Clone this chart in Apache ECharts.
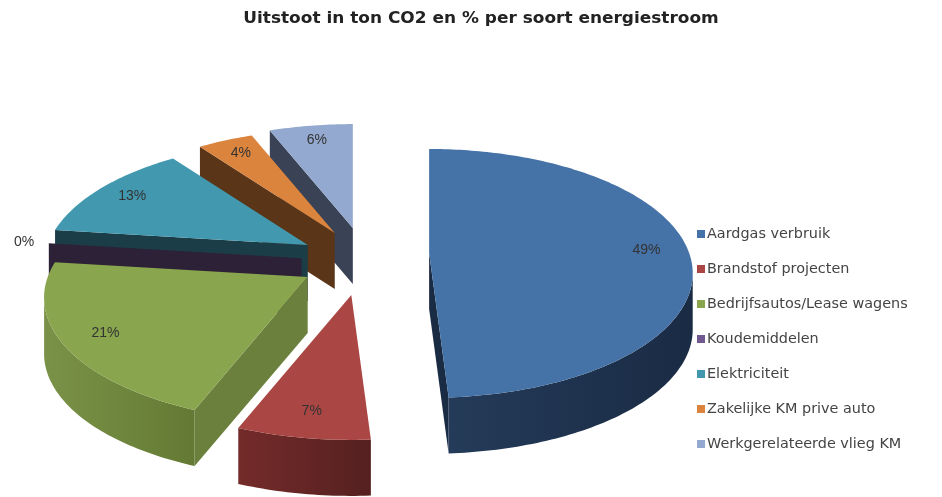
<!DOCTYPE html>
<html>
<head>
<meta charset="utf-8">
<style>
    html, body { margin: 0; padding: 0; background: #fff; }
    #chart { width: 942px; height: 497px; filter: blur(0.5px); }
</style>
<script src="https://cdn.jsdelivr.net/npm/echarts@6/dist/echarts.min.js"></script>
</head>
<body>
<div id="chart"></div>
<script>
const chartTitle = 'Uitstoot in ton CO2 en % per soort energiestroom';
const categories = [
    'Aardgas verbruik',
    'Brandstof projecten',
    'Bedrijfsautos/Lease wagens',
    'Koudemiddelen',
    'Elektriciteit',
    'Zakelijke KM prive auto',
    'Werkgerelateerde vlieg KM',
];
const percentages = [49, 7, 21, 0, 13, 4, 6];

// styling per slice, same order as categories
const explodeDistance = [0.281, 0.27, 0.233, 0.223, 0.243, 0.259, 0.287];
const explodeAngle = [76, 186, 236, 276, 304, 338, 355];
const topColors = ['#4572A7', '#AA4643', '#89A54E', '#71588F', '#4198AF', '#DB843D', '#93A9CF'];
const wallLeft = ['#243B59', '#742B2A', '#7A9247', '#2C2136', '#1B3D47', '#5A3518', '#3A4255'];
const wallRight = ['#1A2B44', '#552020', '#647A34', '#2C2136', '#1B3D47', '#5A3518', '#3A4255'];
const wallFlat = ['#1A2B44', '#552020', '#6A803C', '#2C2136', '#1B3D47', '#5A3518', '#3A4255'];
const paintOrder = [7, 6, 5, 4, 3, 2, 1];

// fake 3d projection of the pie plane
const centerX = 359;
const centerY = 261;
const radiusX = 260;
const radiusY = 121;
const perspective = 0.165;
const depth = 56;
const labelRadius = 0.84;
const outsideLabelRadius = 1.1;

function project(X, Y) {
    const w = 1 / (1 - perspective * Y);
    return [radiusX * X * w, radiusY * Y * w];
}

function onCircle(deg, r) {
    const a = (deg * Math.PI) / 180;
    return project(r * Math.sin(a), -r * Math.cos(a));
}

const total = percentages.reduce((sum, v) => sum + v, 0);

function sliceAngles(index) {
    const before = percentages.slice(0, index).reduce((sum, v) => sum + v, 0);
    return [(before / total) * 360, ((before + percentages[index]) / total) * 360];
}

function wall(points, fill, z2) {
    const bottom = points.map((p) => [p[0], p[1] + depth]).reverse();
    return { type: 'polygon', z2: z2, shape: { points: points.concat(bottom) }, style: { fill: fill } };
}

function renderSlice(index, api) {
    const value = api.value(0);
    const [t0, t1] = sliceAngles(index);
    const mid = (t0 + t1) / 2;
    const shift = onCircle(explodeAngle[index], explodeDistance[index]);
    const apex = [centerX + shift[0], centerY + shift[1]];
    const place = (p) => [apex[0] + p[0], apex[1] + p[1]];

    const arc = [];
    const steps = Math.max(1, Math.ceil(t1 - t0));
    for (let i = 0; i <= steps; i++) {
        arc.push(place(onCircle(t0 + ((t1 - t0) * i) / steps, 1)));
    }

    const children = [];
    // only walls on the lower side of the slice can be seen
    if (arc[0][0] < apex[0]) {
        children.push(wall([apex, arc[0]], wallFlat[index], 1));
    }
    if (arc[arc.length - 1][0] > apex[0]) {
        children.push(wall([arc[arc.length - 1], apex], wallFlat[index], 1));
    }
    const front = arc.filter((p, i) => (i < arc.length - 1 ? arc[i + 1][0] < p[0] : arc[i - 1] && arc[i - 1][0] > p[0]));
    if (front.length > 1) {
        const fill = new echarts.graphic.LinearGradient(0, 0, 1, 0, [
            { offset: 0, color: wallLeft[index] },
            { offset: 1, color: wallRight[index] },
        ]);
        children.push(wall(front, fill, 2));
    }
    if (value > 0) {
        children.push({
            type: 'polygon',
            z2: 3,
            shape: { points: [apex].concat(arc) },
            style: { fill: topColors[index] },
        });
    }
    const labelPos = place(onCircle(mid, value > 0 ? labelRadius : outsideLabelRadius));
    children.push({
        type: 'text',
        z2: 4,
        x: labelPos[0],
        y: labelPos[1],
        style: {
            text: value + '%',
            fill: '#333',
            font: '14px "Liberation Sans", Arial, sans-serif',
            align: 'center',
            verticalAlign: 'middle',
        },
    });
    return { type: 'group', children: children };
}

const series = categories.map((name, index) => ({
    name: name,
    type: 'custom',
    coordinateSystem: 'none',
    silent: true,
    clip: false,
    z: paintOrder[index],
    itemStyle: { color: topColors[index] },
    data: [[percentages[index]]],
    renderItem: (params, api) => renderSlice(index, api),
}));

const chart = echarts.init(document.getElementById('chart'), null, { renderer: 'canvas' });
chart.setOption({
    animation: false,
    backgroundColor: '#fff',
    // wide bold title, the title component cannot stretch text so use graphic
    graphic: [
        {
            type: 'text',
            x: 481,
            y: 19,
            scaleX: 1.13,
            style: {
                text: chartTitle,
                fill: '#222',
                font: 'bold 15px "DejaVu Sans", sans-serif',
                align: 'center',
                verticalAlign: 'middle',
            },
        },
    ],
    legend: {
        orient: 'vertical',
        left: 692,
        top: 222,
        icon: 'rect',
        itemWidth: 8,
        itemHeight: 8,
        itemGap: 21,
        selectedMode: false,
        data: categories,
        textStyle: { fontFamily: 'DejaVu Sans', fontSize: 14.4, color: '#444', lineHeight: 14, padding: [0, 0, 0, -3] },
    },
    series: series,
});
window.addEventListener('resize', () => chart.resize());
</script>
</body>
</html>
